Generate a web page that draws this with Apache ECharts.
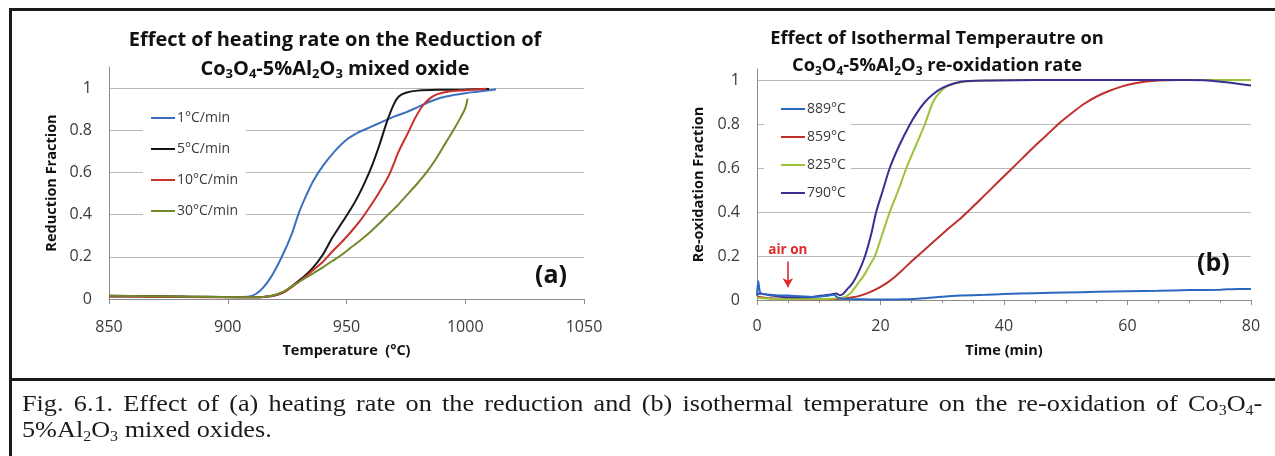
<!DOCTYPE html>
<html>
<head>
<meta charset="utf-8">
<script src="https://cdn.jsdelivr.net/npm/echarts@6/dist/echarts.min.js"></script>
<style>
  html, body { margin:0; padding:0; background:#fff; }
  #wrap { position:relative; width:1275px; height:456px; overflow:hidden; background:#fff; }
  #chart { position:absolute; left:0; top:0; width:1275px; height:456px; }
  .ln { position:absolute; background:#1a1a1a; z-index:5; }
  .cap { position:absolute; left:22px; z-index:5; font-family:"Liberation Serif","Times New Roman",serif; font-size:23px; line-height:26px; color:#1a1a1a; white-space:nowrap; transform:scaleX(1.14); transform-origin:0 0; }
  #cap1 { top:391px; width:1088px; text-align:justify; text-align-last:justify; white-space:normal; }
  #cap2 { top:417px; }
  .cap sub { font-size:14px; vertical-align:-4px; line-height:0; }
</style>
</head>
<body>
<div id="wrap">
  <div id="chart"></div>
  <div class="ln" style="left:9px; top:8px; width:1270px; height:2.5px;"></div>
  <div class="ln" style="left:9px; top:8px; width:2.5px; height:450px;"></div>
  <div class="ln" style="left:9px; top:378px; width:1270px; height:2.5px;"></div>
  <div class="cap" id="cap1">Fig. 6.1. Effect of (a) heating rate on the reduction and (b) isothermal temperature on the re-oxidation of Co<sub>3</sub>O<sub>4</sub>-</div>
  <div class="cap" id="cap2">5%Al<sub>2</sub>O<sub>3</sub> mixed oxides.</div>
</div>
<script>
// ---------- (a) Reduction fraction vs temperature (°C) ----------
const rateNames = ['1°C/min', '5°C/min', '10°C/min', '30°C/min'];
const rate1 = [[850,0.012],[870,0.011],[890,0.01],[905,0.01],[909,0.012],[912,0.025],[915,0.055],[918,0.1],[921,0.16],[924,0.23],[927,0.31],[930,0.41],[933,0.49],[936,0.56],[940,0.63],[945,0.7],[950,0.755],[955,0.79],[960,0.815],[965,0.84],[970,0.865],[975,0.885],[980,0.91],[985,0.935],[990,0.955],[995,0.967],[1000,0.976],[1005,0.983],[1010,0.99],[1013,0.995]];
const rate5 = [[850,0.015],[880,0.012],[910,0.008],[915,0.01],[920,0.018],[924,0.035],[928,0.07],[932,0.105],[936,0.15],[940,0.21],[944,0.29],[948,0.36],[952,0.43],[955,0.49],[958,0.56],[961,0.64],[964,0.735],[967,0.84],[970,0.925],[972,0.96],[975,0.978],[980,0.988],[990,0.992],[1000,0.993],[1010,0.996]];
const rate10 = [[850,0.012],[880,0.01],[910,0.008],[915,0.01],[920,0.018],[924,0.035],[928,0.065],[932,0.1],[936,0.138],[940,0.175],[944,0.225],[948,0.27],[952,0.32],[956,0.375],[960,0.44],[964,0.51],[968,0.59],[972,0.7],[976,0.79],[979,0.86],[982,0.915],[985,0.95],[988,0.97],[993,0.984],[1000,0.99],[1009,0.997]];
const rate30 = [[850,0.015],[880,0.012],[910,0.008],[915,0.01],[920,0.02],[924,0.038],[928,0.068],[932,0.095],[936,0.122],[940,0.15],[944,0.18],[948,0.21],[952,0.245],[956,0.28],[960,0.318],[964,0.36],[968,0.405],[972,0.45],[976,0.5],[980,0.55],[984,0.605],[988,0.67],[992,0.745],[995,0.8],[998,0.86],[1000,0.905],[1001,0.95]];
const tempTicks = { min: 850, max: 1050, step: 50 };

// ---------- (b) Re-oxidation fraction vs time (min) ----------
const isoNames = ['889°C', '859°C', '825°C', '790°C'];
const iso889 = [[0,0.02],[0.2,0.085],[0.5,0.035],[1,0.027],[3,0.022],[5,0.02],[7,0.017],[9,0.014],[11,0.018],[12.5,0.024],[13,0.012],[14,0.006],[17,0.003],[20,0.002],[24,0.003],[27,0.008],[30,0.015],[33,0.02],[37,0.024],[40,0.027],[45,0.031],[50,0.034],[55,0.037],[60,0.04],[65,0.042],[70,0.045],[75,0.047],[78,0.05],[80,0.05]];
const iso859 = [[0,0.015],[2,0.008],[5,0.004],[10,0.003],[13,0.005],[15,0.01],[17,0.022],[19,0.045],[21,0.077],[23,0.122],[25,0.175],[27,0.225],[29,0.275],[31,0.325],[33,0.372],[35,0.425],[37,0.48],[39,0.535],[41,0.59],[43,0.645],[45,0.7],[47,0.752],[49,0.805],[51,0.85],[53,0.892],[55,0.925],[57,0.95],[59,0.97],[61,0.984],[63,0.993],[65,0.998],[68,1.0],[75,1.0]];
const iso825 = [[0,0.01],[3,0.005],[8,0.004],[12,0.006],[14,0.012],[15.1,0.03],[16.4,0.077],[17.5,0.12],[18.3,0.16],[19.1,0.2],[20.3,0.3],[21.5,0.4],[22.9,0.5],[24.2,0.6],[25.7,0.7],[27.2,0.8],[28.5,0.9],[29.5,0.94],[30.7,0.97],[32.9,0.99],[36,0.997],[45,1.0],[80,1.0]];
const iso790 = [[0,0.02],[0.3,0.03],[2,0.022],[5,0.012],[8,0.012],[10,0.018],[12,0.025],[12.8,0.03],[13.4,0.022],[14,0.03],[14.8,0.055],[15.5,0.077],[16.5,0.13],[17.5,0.2],[18.5,0.3],[19.3,0.4],[20.4,0.5],[21.5,0.6],[23,0.7],[24.8,0.8],[26,0.855],[27.2,0.9],[28.5,0.935],[30.1,0.965],[32,0.985],[34,0.995],[38,0.998],[45,1.0],[60,1.0],[70,1.0],[73,0.998],[76,0.99],[80,0.975]];
const timeTicks = { min: 0, max: 80, step: 20 };
const airOnTime = 5;

const FONT = '"Open Sans", Lato, sans-serif';
const GRID_C = '#b8b8b8';
const AXIS_C = '#8c8c8c';
const LABEL_C = '#3a3a3a';

function richFor(size) {
  return {
    a: { fontFamily: FONT, fontSize: size, fontWeight: 'bold', color: '#111', lineHeight: 24 },
    s: { fontFamily: FONT, fontSize: Math.round(size * 0.66), fontWeight: 'bold', color: '#111', lineHeight: 12, verticalAlign: 'bottom' }
  };
}
function formula(parts) { return parts.map(p => typeof p === 'number' ? '{s|' + p + '}' : '{a|' + p + '}').join(''); }

function splitColors(n) { const c = []; for (let i = 0; i < n; i++) c.push(GRID_C); c.push('rgba(0,0,0,0)'); return c; }

function yAxisCfg(gi, maxV, name, gap) {
  return {
    type: 'value', gridIndex: gi, min: 0, max: maxV, interval: 0.2,
    name: name, nameLocation: 'middle', nameGap: gap,
    nameTextStyle: { fontFamily: FONT, fontSize: 14.5, fontWeight: 'bold', color: '#111' },
    axisLine: { show: true, lineStyle: { color: AXIS_C, width: 1 } },
    axisTick: { show: false },
    axisLabel: { fontFamily: FONT, fontSize: 16, color: LABEL_C, margin: 17,
      formatter: v => (v > 1.001 ? '' : String(+v.toFixed(1))) },
    splitLine: { show: true, lineStyle: { color: splitColors(6), width: 1 } }
  };
}

function line(name, data, color, xi, yi, extra) {
  return Object.assign({
    name: name, type: 'line', data: data, xAxisIndex: xi, yAxisIndex: yi,
    symbol: 'none', smooth: 0.3, lineStyle: { color: color, width: 2 }, itemStyle: { color: color },
    z: 3
  }, extra || {});
}

const chart = echarts.init(document.getElementById('chart'), null, { renderer: 'canvas' });
chart.setOption({
  animation: false,
  backgroundColor: '#fff',
  title: [
    { text: 'Effect of heating rate on the Reduction of', left: 335, top: 28, textAlign: 'center', padding: 0,
      textStyle: { fontFamily: FONT, fontSize: 20, fontWeight: 'bold', color: '#111', lineHeight: 24 } },
    { text: formula(['Co', 3, 'O', 4, '-5%Al', 2, 'O', 3, ' mixed oxide']), left: 335, top: 57, textAlign: 'center', padding: 0,
      textStyle: { rich: richFor(20) } },
    { text: 'Effect of Isothermal Temperautre on', left: 937, top: 27, textAlign: 'center', padding: 0,
      textStyle: { fontFamily: FONT, fontSize: 18.3, fontWeight: 'bold', color: '#111', lineHeight: 24 } },
    { text: formula(['Co', 3, 'O', 4, '-5%Al', 2, 'O', 3, ' re-oxidation rate']), left: 937, top: 54, textAlign: 'center', padding: 0,
      textStyle: { rich: richFor(18.3) } }
  ],
  grid: [
    { left: 109, top: 67, width: 475, height: 232 },
    { left: 757, top: 69, width: 494, height: 231 }
  ],
  xAxis: [
    { type: 'value', gridIndex: 0, min: tempTicks.min, max: tempTicks.max, interval: tempTicks.step,
      name: 'Temperature  (°C)', nameLocation: 'middle', nameGap: 44,
      nameTextStyle: { fontFamily: FONT, fontSize: 14.5, fontWeight: 'bold', color: '#111' },
      axisLine: { show: true, onZero: false, lineStyle: { color: AXIS_C, width: 1 } },
      axisTick: { show: true, length: 5, lineStyle: { color: AXIS_C } },
      axisLabel: { fontFamily: FONT, fontSize: 16, color: LABEL_C, margin: 20, formatter: v => String(v) },
      splitLine: { show: false } },
    { type: 'value', gridIndex: 1, min: timeTicks.min, max: timeTicks.max, interval: timeTicks.step,
      name: 'Time (min)', nameLocation: 'middle', nameGap: 43,
      nameTextStyle: { fontFamily: FONT, fontSize: 14.5, fontWeight: 'bold', color: '#111' },
      axisLine: { show: true, onZero: false, lineStyle: { color: AXIS_C, width: 1 } },
      axisTick: { show: true, length: 5, lineStyle: { color: AXIS_C } },
      minorTick: { show: true, splitNumber: 4, length: 3, lineStyle: { color: AXIS_C } },
      axisLabel: { fontFamily: FONT, fontSize: 16, color: LABEL_C, margin: 18, formatter: v => String(v) },
      splitLine: { show: false } }
  ],
  yAxis: [
    yAxisCfg(0, 1.1, 'Reduction Fraction', 50),
    yAxisCfg(1, 1.05, 'Re-oxidation Fraction', 51)
  ],
  legend: [
    { data: rateNames, orient: 'vertical', left: 143, top: 102, padding: [8, 8, 8, 8], itemGap: 15,
      icon: 'rect', itemWidth: 24, itemHeight: 2, backgroundColor: '#fff',
      textStyle: { fontFamily: FONT, fontSize: 14, color: LABEL_C, lineHeight: 16, padding: [0, 0, 0, -3] } },
    { data: isoNames, orient: 'vertical', left: 764, top: 93, padding: [8, 5, 8, 17], itemGap: 12,
      icon: 'rect', itemWidth: 24, itemHeight: 2, backgroundColor: '#fff',
      textStyle: { fontFamily: FONT, fontSize: 14, color: LABEL_C, lineHeight: 16, padding: [0, 0, 0, -3] } }
  ],
  graphic: [
    { type: 'text', left: 535, top: 263, z: 10, style: { text: '(a)', font: 'bold 25px ' + FONT, fill: '#111' } },
    { type: 'text', left: 1197, top: 251, z: 10, style: { text: '(b)', font: 'bold 25px ' + FONT, fill: '#111' } }
  ],
  series: [
    line(rateNames[0], rate1, '#3d6fc0', 0, 0),
    line(rateNames[1], rate5, '#161616', 0, 0),
    line(rateNames[2], rate10, '#c8302b', 0, 0),
    line(rateNames[3], rate30, '#6e8a2c', 0, 0),
    line(isoNames[1], iso859, '#c0302b', 1, 1),
    line(isoNames[2], iso825, '#9cc23a', 1, 1),
    line(isoNames[3], iso790, '#3b2e92', 1, 1),
    line(isoNames[0], iso889, '#2a68c0', 1, 1, {
      markLine: {
        silent: true, symbol: ['none', 'arrow'], symbolSize: [8, 9],
        lineStyle: { color: '#e02a2a', width: 1.6, type: 'solid' },
        label: { show: true, position: 'start', distance: 4, formatter: 'air on',
          color: '#e02a2a', fontFamily: FONT, fontSize: 13.5, fontWeight: 'bold' },
        data: [[{ coord: [airOnTime, 0.175] }, { coord: [airOnTime, 0.058] }]]
      }
    })
  ]
});
</script>
</body>
</html>
